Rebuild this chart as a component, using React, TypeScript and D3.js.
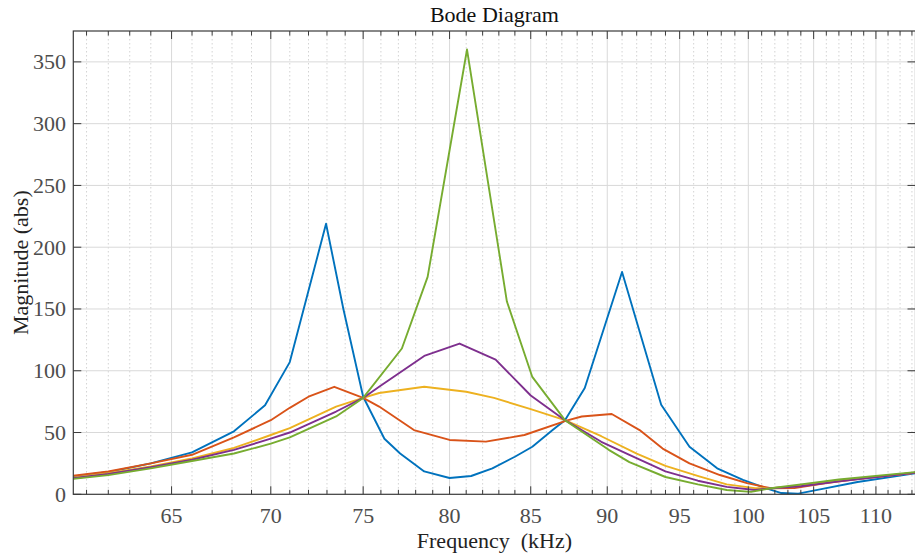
import React from "react";
import * as d3 from "d3";

// ---- data ----
const blueF = [60.4, 62, 64, 66, 68.1, 69.7, 71.0, 72.95, 73.9, 75.0, 76.2, 77.1, 78.5, 80.0, 81.3, 82.6, 84.0, 85.1, 86.4, 87.2, 88.5, 91.0, 93.7, 95.7, 97.7, 99.6, 101.3, 102.5, 103.8, 105.5, 108.5, 113.3];
const blueV = [14.5, 18, 25, 34, 51, 72, 107, 219, 150, 79, 45, 33, 18.5, 13.2, 14.8, 21, 30.4, 38.5, 52, 60, 86, 180, 72.5, 38.5, 21, 11.6, 5, 1, 0.5, 4, 10, 17];

const orangeF = [60.4, 62, 64, 66, 68.1, 70, 71.0, 72.0, 73.4, 75.0, 75.9, 77.9, 80.0, 82.2, 84.6, 87.3, 88.3, 90.3, 92.2, 93.8, 95.7, 97.9, 99.9, 101.7, 103.5, 106, 109, 113.3];
const orangeV = [15, 18.5, 25, 32, 46, 60, 70, 79, 87, 78, 71, 52, 44, 42.6, 48, 59.6, 63, 65, 52, 37, 25, 15.6, 9, 4.9, 5, 9, 13, 17.5];

const yellowF = [60.4, 62, 64, 66, 68.1, 70, 71.0, 73.5, 75.0, 75.9, 78.5, 81.0, 82.7, 85, 87.2, 89.6, 92, 94, 96.4, 98.4, 100.5, 101.7, 104, 107, 113.3];
const yellowV = [13.5, 17, 22.5, 29, 37.5, 48, 53.5, 71, 78, 82, 87, 83, 78, 69, 60, 47, 33, 23, 14.5, 8, 5, 4.9, 7, 11, 17.5];

const purpleF = [60.4, 62, 64, 66, 68.1, 70, 71.0, 73.5, 75.0, 75.9, 78.5, 80.6, 82.8, 85, 87.2, 89.6, 91.5, 94, 96.3, 98.4, 100.5, 101.7, 104, 107, 113.3];
const purpleV = [13, 16.5, 22, 28, 36, 45, 50, 67, 78, 87, 112, 122, 109, 80, 60, 42.5, 32, 18.5, 11, 6, 3.5, 4.9, 6.5, 10.5, 17.5];

const greenF = [60.4, 62, 64, 66, 68.1, 70, 71.0, 73.5, 75.0, 77.2, 78.7, 81.05, 83.5, 85.1, 87.2, 90.1, 91.5, 94, 96.3, 98.4, 100.2, 101.7, 104, 107, 113.3];
const greenV = [12.5, 15.5, 21, 27, 33, 41, 46, 63, 78, 118, 176, 360, 156, 95, 60, 36, 26, 14, 8, 3.5, 2, 4.9, 8, 12, 18];

const seriesColors = ["#0072BD", "#D95319", "#EDB120", "#7E2F8E", "#77AC30"];
const xMajorTicks = [65, 70, 75, 80, 85, 90, 95, 100, 105, 110];
const yTicks = [0, 50, 100, 150, 200, 250, 300, 350];
const xDomain = [60.4, 113.3];
const yDomain = [0, 375];

const W = 915;
const H = 560;
const L = 73.3;
const R = 915.5;
const T = 31;
const B = 494.3;

export default function App() {
  const x = d3.scaleLog().domain(xDomain).range([L, R]);
  const y = d3.scaleLinear().domain(yDomain).range([B, T]);
  const minor = d3.range(61, 114).filter((v) => v % 5 !== 0);

  const series = [
    [blueF, blueV],
    [orangeF, orangeV],
    [yellowF, yellowV],
    [purpleF, purpleV],
    [greenF, greenV],
  ];
  const line = d3
    .line<[number, number]>()
    .x((d) => x(d[0]))
    .y((d) => y(d[1]));

  const font = "'Liberation Serif', 'Times New Roman', serif";
  const tickCol = "#4d4d4d";
  const axisCol = "#3a3a3a";

  return (
    <svg
      width={W}
      height={H}
      style={{ position: "absolute", left: 0, top: 0, background: "#fff" }}
    >
      <defs>
        <clipPath id="plotclip">
          <rect x={L} y={T} width={R - L} height={B - T} />
        </clipPath>
      </defs>
      <rect x={0} y={0} width={W} height={H} fill="#fff" />
      {/* minor grid */}
      {minor.map((v) => (
        <line
          key={"mg" + v}
          x1={x(v)}
          x2={x(v)}
          y1={T}
          y2={B}
          stroke="#c8c8c8"
          strokeWidth={0.8}
          strokeDasharray="1.5,2.5"
        />
      ))}
      {/* major grid */}
      {xMajorTicks.map((v) => (
        <line key={"xg" + v} x1={x(v)} x2={x(v)} y1={T} y2={B} stroke="#d9d9d9" strokeWidth={1} />
      ))}
      {yTicks
        .filter((v) => v > 0)
        .map((v) => (
          <line key={"yg" + v} x1={L} x2={R} y1={y(v)} y2={y(v)} stroke="#d9d9d9" strokeWidth={1} />
        ))}
      {/* series */}
      <g clipPath="url(#plotclip)">
        {series.map(([f, v], i) => (
          <path
            key={"s" + i}
            d={line(f.map((ff, j) => [ff, v[j]] as [number, number])) || ""}
            fill="none"
            stroke={seriesColors[i]}
            strokeWidth={1.9}
            strokeLinejoin="round"
          />
        ))}
      </g>
      {/* axes box */}
      <rect x={L} y={T} width={R - L} height={B - T} fill="none" stroke={axisCol} strokeWidth={1.2} />
      {/* x ticks */}
      {xMajorTicks.map((v) => (
        <g key={"xt" + v}>
          <line x1={x(v)} x2={x(v)} y1={B} y2={B - 8} stroke={axisCol} strokeWidth={1} />
          <line x1={x(v)} x2={x(v)} y1={T} y2={T + 8} stroke={axisCol} strokeWidth={1} />
          <text x={x(v)} y={523} textAnchor="middle" fontFamily={font} fontSize={22} fill={tickCol}>
            {v}
          </text>
        </g>
      ))}
      {minor.map((v) => (
        <g key={"mt" + v}>
          <line x1={x(v)} x2={x(v)} y1={B} y2={B - 4.5} stroke={axisCol} strokeWidth={1} />
          <line x1={x(v)} x2={x(v)} y1={T} y2={T + 4.5} stroke={axisCol} strokeWidth={1} />
        </g>
      ))}
      {/* y ticks */}
      {yTicks.map((v) => (
        <g key={"yt" + v}>
          <line x1={L} x2={L + 8} y1={y(v)} y2={y(v)} stroke={axisCol} strokeWidth={1} />
          <line x1={R} x2={R - 8} y1={y(v)} y2={y(v)} stroke={axisCol} strokeWidth={1} />
          <text
            x={66}
            y={y(v) + 7.5}
            textAnchor="end"
            fontFamily={font}
            fontSize={22}
            fill={tickCol}
          >
            {v}
          </text>
        </g>
      ))}
      {/* title and labels */}
      <text x={(L + R) / 2} y={22} textAnchor="middle" fontFamily={font} fontSize={22} fill="#111">
        Bode Diagram
      </text>
      <text
        x={(L + R) / 2}
        y={548}
        textAnchor="middle"
        fontFamily={font}
        fontSize={22}
        fill="#222"
        style={{ whiteSpace: "pre" }}
      >
        {"Frequency  (kHz)"}
      </text>
      <text
        transform={`translate(28,${(T + B) / 2}) rotate(-90)`}
        textAnchor="middle"
        fontFamily={font}
        fontSize={22}
        fill="#222"
      >
        Magnitude (abs)
      </text>
    </svg>
  );
}
